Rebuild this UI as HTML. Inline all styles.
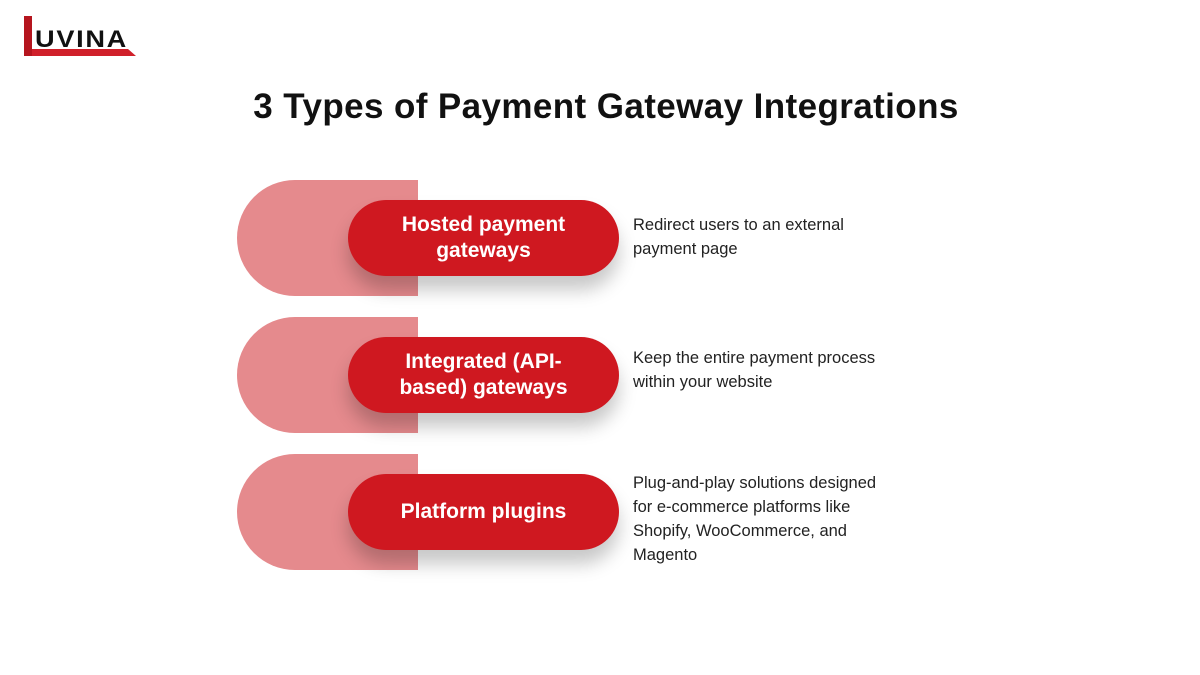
<!DOCTYPE html>
<html><head><style>
body{margin:0;width:1200px;height:675px;background:#fff;position:relative;overflow:hidden;font-family:"Liberation Sans",sans-serif}
.bg{position:absolute;left:237px;width:181px;height:116px;background:#e58a8d;border-radius:58px 0 0 58px}
.pill{position:absolute;left:348px;width:271px;height:76px;background:#cf1820;border-radius:38px;color:#fff;font-weight:bold;font-size:21px;line-height:26px;display:flex;align-items:center;justify-content:center;text-align:center;box-shadow:0 14px 18px rgba(0,0,0,0.22)}
.desc{position:absolute;left:633px;font-size:16.5px;line-height:24px;color:#222;width:290px}
h1{position:absolute;top:87px;left:0;width:1212px;text-align:center;margin:0;font-size:35px;letter-spacing:0.4px;font-weight:bold;color:#111}
</style></head><body>
<svg style="position:absolute;left:0;top:0" width="160" height="70">
<polygon points="24,16 32,16 32,49 128,49 136,56 24,56" fill="#d0202a"/>
<polygon points="24,16 32,16 32,56 24,56" fill="#b5151e"/>
<text x="35" y="47" font-family="Liberation Sans" font-weight="bold" font-size="24" fill="#111" letter-spacing="1.5" textLength="93" lengthAdjust="spacingAndGlyphs">UVINA</text>
</svg>
<h1>3 Types of Payment Gateway Integrations</h1>
<div class="bg" style="top:180px"></div>
<div class="pill" style="top:200px">Hosted payment<br>gateways</div>
<div class="desc" style="top:213px">Redirect users to an external<br>payment page</div>
<div class="bg" style="top:317px"></div>
<div class="pill" style="top:337px">Integrated (API-<br>based) gateways</div>
<div class="desc" style="top:346px">Keep the entire payment process<br>within your website</div>
<div class="bg" style="top:454px"></div>
<div class="pill" style="top:474px">Platform plugins</div>
<div class="desc" style="top:471px">Plug-and-play solutions designed<br>for e-commerce platforms like<br>Shopify, WooCommerce, and<br>Magento</div>
</body></html>
